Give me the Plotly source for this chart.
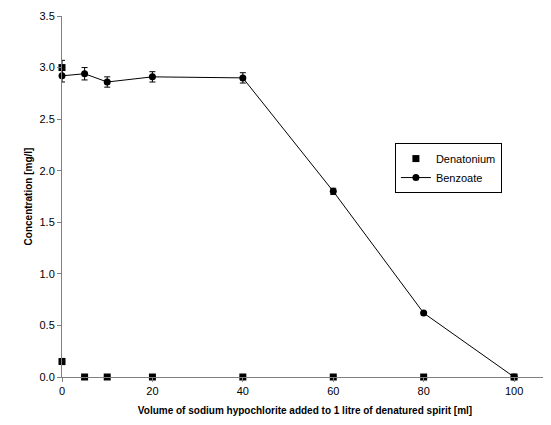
import plotly.graph_objects as go

den_x = [0, 0, 5, 10, 20, 40, 60, 80, 100]
den_y = [3.0, 0.15, 0.0, 0.0, 0.0, 0.0, 0.0, 0.0, 0.0]
den_err = [0.07, 0.03, 0.0, 0.0, 0.0, 0.0, 0.0, 0.0, 0.0]

ben_x = [0, 5, 10, 20, 40, 60, 80, 100]
ben_y = [2.92, 2.94, 2.86, 2.91, 2.90, 1.80, 0.62, 0.0]
ben_err = [0.06, 0.06, 0.05, 0.05, 0.05, 0.03, 0.0, 0.0]

x_ticks = [0, 20, 40, 60, 80, 100]
y_ticks = [0.0, 0.5, 1.0, 1.5, 2.0, 2.5, 3.0, 3.5]

fig = go.Figure()
fig.add_trace(go.Scatter(
    x=ben_x, y=ben_y, mode="lines+markers", name="Benzoate",
    line=dict(color="black", width=1),
    marker=dict(symbol="circle", size=7, color="black"),
    error_y=dict(type="data", array=ben_err, color="black", thickness=1, width=3),
    cliponaxis=False,
))
fig.add_trace(go.Scatter(
    x=den_x, y=den_y, mode="markers", name="Denatonium",
    marker=dict(symbol="square", size=7, color="black"),
    error_y=dict(type="data", array=den_err, color="black", thickness=1, width=3),
    cliponaxis=False,
))

fig.update_layout(
    width=543, height=417,
    margin=dict(l=54, r=3, t=8, b=48),
    plot_bgcolor="white", paper_bgcolor="white",
    font=dict(family="Liberation Sans, Arial", size=11, color="black"),
    legend=dict(
        x=0.685, y=0.648, xanchor="left", yanchor="top",
        bordercolor="black", borderwidth=1, bgcolor="white",
        font=dict(size=11), tracegroupgap=0, traceorder="reversed",
    ),
    showlegend=True,
)
fig.update_xaxes(
    range=[0, 107.5], tickvals=x_ticks, ticktext=[str(v) for v in x_ticks],
    showgrid=False, zeroline=False, showline=True, linecolor="#808080", linewidth=1,
    ticks="outside", ticklen=4, tickcolor="#808080",
    title=dict(text="<b>Volume of sodium hypochlorite added to 1 litre of denatured spirit [ml]</b>",
               font=dict(size=10), standoff=10),
)
fig.update_yaxes(
    range=[0, 3.5], tickvals=y_ticks, ticktext=[f"{v:.1f}" for v in y_ticks],
    showgrid=False, zeroline=False, showline=True, linecolor="#808080", linewidth=1,
    ticks="outside", ticklen=4, tickcolor="#808080",
    title=dict(text="<b>Concentration [mg/l]</b>", font=dict(size=10), standoff=5),
)

fig.write_html("out.html")
